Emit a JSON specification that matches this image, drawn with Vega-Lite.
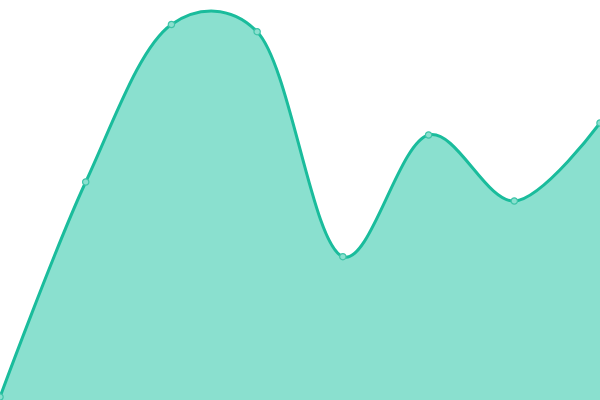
{
  "$schema": "https://vega.github.io/schema/vega-lite/v6.json",
  "width": 600,
  "height": 400,
  "autosize": {"type": "none"},
  "padding": 0,
  "background": "white",
  "config": {"view": {"stroke": null}},
  "data": {"values": [
    {"i": 0, "v": 3},
    {"i": 1, "v": 218},
    {"i": 2, "v": 375.5},
    {"i": 3, "v": 368.3},
    {"i": 4, "v": 143.3},
    {"i": 5, "v": 265},
    {"i": 6, "v": 199},
    {"i": 7, "v": 277}
  ]},
  "encoding": {
    "x": {"field": "i", "type": "quantitative", "scale": {"domain": [0, 7], "nice": false, "zero": false}, "axis": null},
    "y": {"field": "v", "type": "quantitative", "scale": {"domain": [0, 400], "nice": false}, "axis": null}
  },
  "layer": [
    {"mark": {"type": "area", "interpolate": "catmull-rom", "tension": 0.25, "color": "#8ae0cf", "opacity": 1, "line": {"color": "#1abc9c", "strokeWidth": 3}}},
    {"mark": {"type": "point", "filled": true, "size": 40, "fill": "#8ae0cf", "stroke": "#3fc4a8", "strokeWidth": 1.2, "opacity": 1}}
  ]
}
